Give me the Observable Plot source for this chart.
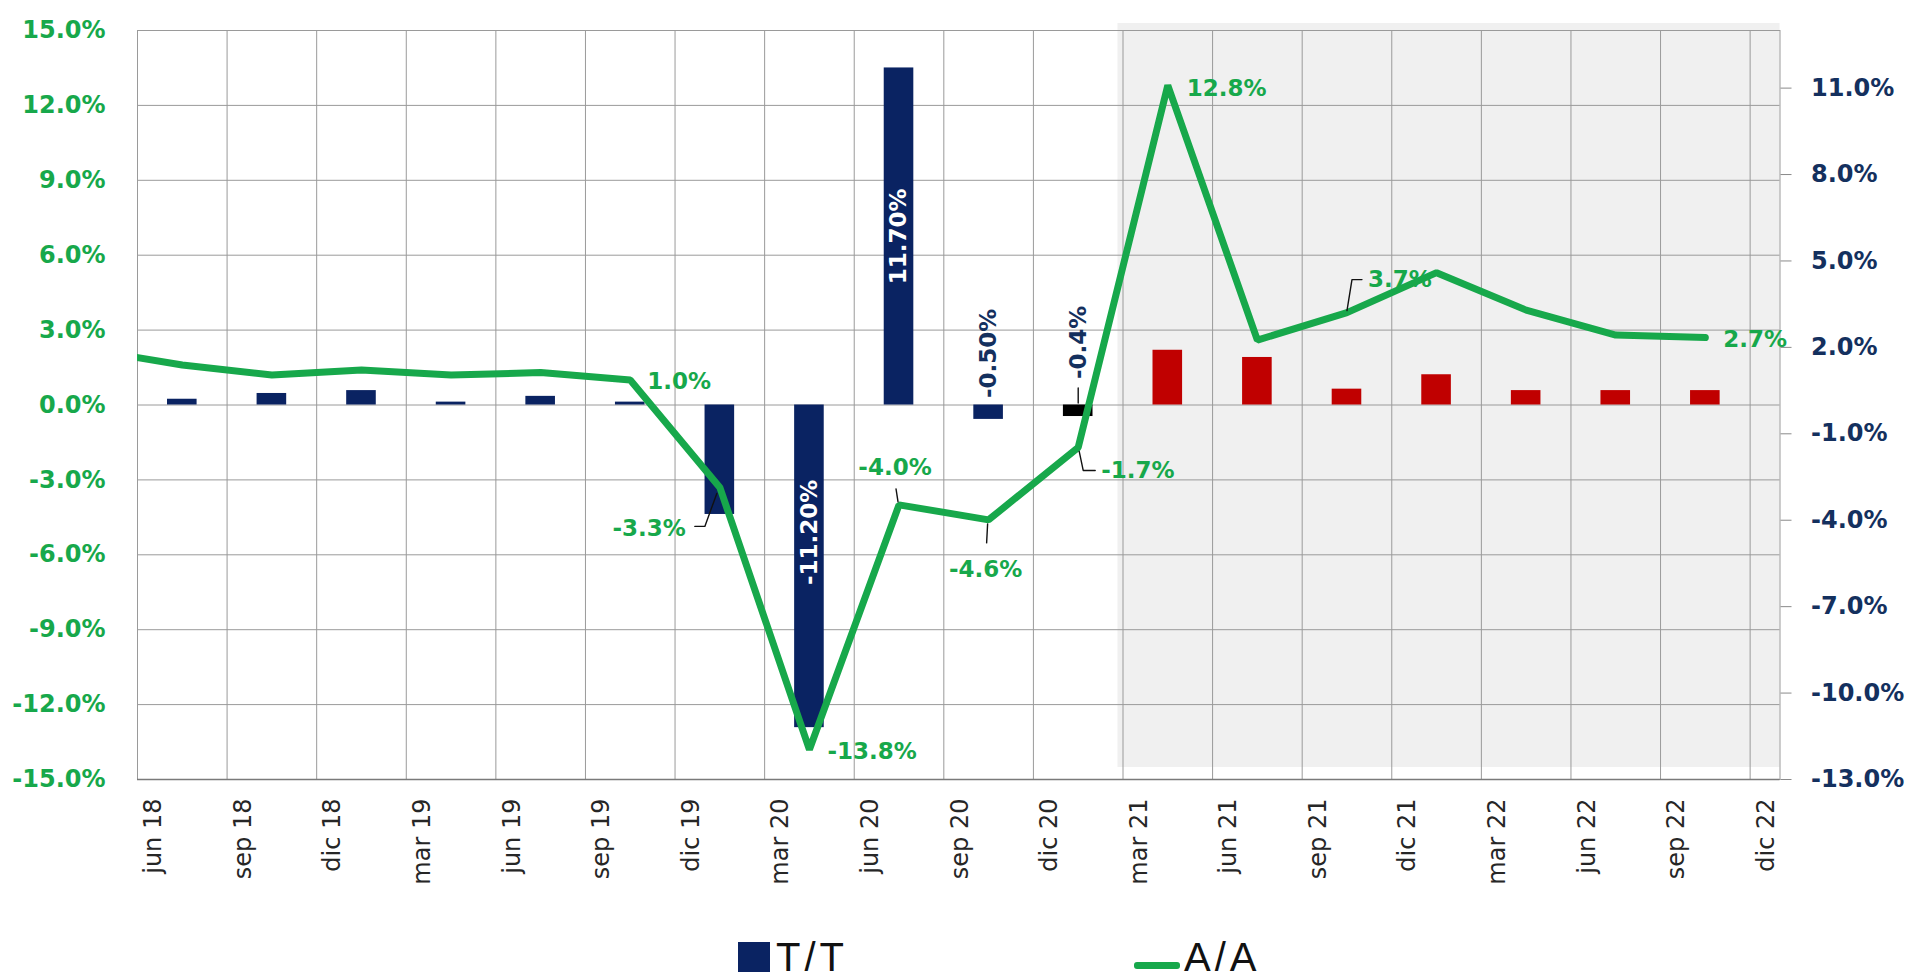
<!DOCTYPE html>
<html>
<head>
<meta charset="utf-8">
<script src="https://cdn.jsdelivr.net/npm/d3@7"></script>
<script src="https://cdn.jsdelivr.net/npm/@observablehq/plot@0.6"></script>
<style>
  html, body { margin: 0; padding: 0; background: #fff; }
  #chart svg { display: block; }
  .legend { position: relative; width: 1912px; height: 73px; font-family: "Liberation Sans", Arial, sans-serif; }
  .legend .swatch-bar { position: absolute; left: 738px; top: 37px; width: 32px; height: 30px; background: #0a2362; }
  .legend .swatch-line { position: absolute; left: 1134px; top: 57px; width: 46px; height: 7px; border-radius: 3px; background: #17a84b; }
  .legend .txt { position: absolute; top: 32px; font-size: 40px; line-height: 40px; color: #111; letter-spacing: 4px; }
</style>
</head>
<body>
<div id="chart"></div>
<div class="legend">
  <span class="swatch-bar"></span><span class="txt" style="left:776px">T/T</span>
  <span class="swatch-line"></span><span class="txt" style="left:1184px">A/A</span>
</div>
<script>
// Quarter boundaries shown on the horizontal axis
const axisTickLabels = ["jun 18","sep 18","dic 18","mar 19","jun 19","sep 19","dic 19","mar 20","jun 20","sep 20","dic 20","mar 21","jun 21","sep 21","dic 21","mar 22","jun 22","sep 22","dic 22"];

// Quarters plotted between the boundaries
const quarters = ["III-18","IV-18","I-19","II-19","III-19","IV-19","I-20","II-20","III-20","IV-20","I-21","II-21","III-21","IV-21","I-22","II-22","III-22","IV-22"];

// T/T: quarter-on-quarter change (right axis)
const ttValues = [0.2, 0.4, 0.5, 0.1, 0.3, 0.1, -3.8, -11.2, 11.7, -0.5, -0.4, 1.9, 1.65, 0.55, 1.05, 0.5, 0.5, 0.5];

// A/A: year-on-year change (left axis); series begins one quarter earlier
const aaQuarters = ["II-18", ...quarters];
const aaValues = [2.2, 1.6, 1.2, 1.4, 1.2, 1.3, 1.0, -3.3, -13.8, -4.0, -4.6, -1.7, 12.8, 2.6, 3.7, 5.3, 3.8, 2.8, 2.7];

// Axis ticks
const leftTicks = [-15, -12, -9, -6, -3, 0, 3, 6, 9, 12, 15];
const rightTicks = [-13, -10, -7, -4, -1, 2, 5, 8, 11];

const LEFT_DOMAIN = [-15, 15];
const RIGHT_DOMAIN = [-13, 13];
const latestEstimate = "I-21";
const firstForecast = "II-21";

const GREEN = "#17a84b";
const NAVY = "#0a2362";
const NAVY_TEXT = "#14305e";
const RED = "#c00000";
const GRID = "#9a9a9a";
const NUM_FONT = "DejaVu Sans";

// right-axis values expressed on the left (shared) y scale
const toLeft = d3.scaleLinear().domain(RIGHT_DOMAIN).range(LEFT_DOMAIN);

const slot = q => quarters.indexOf(q);
const center = q => aaQuarters.indexOf(q) - 0.5;
const xMax = axisTickLabels.length - 1 + 1 / 3;

const bars = quarters.map((q, i) => ({q, v: ttValues[i]}));
const aa = aaQuarters.map((q, i) => ({q, v: aaValues[i]}));

const barFill = d => d.q === latestEstimate ? "#000" : slot(d.q) > slot(latestEstimate) ? RED : NAVY;

// label placement (screen offsets in px)
const lineLabelLayout = {
  "IV-19": {dx: 17, dy: 2, textAnchor: "start"},
  "I-20": {dx: -34, dy: 41, textAnchor: "end", leader: [[-3, 6], [-15, 39], [-25, 39]]},
  "II-20": {dx: 18, dy: 2, textAnchor: "start"},
  "III-20": {dx: -4, dy: -37, textAnchor: "middle", leader: [[-1, -3], [-3, -16]]},
  "IV-20": {dx: -3, dy: 50, textAnchor: "middle", leader: [[-1, 4], [-2, 23]]},
  "I-21": {dx: 23, dy: 23, textAnchor: "start", leader: [[1, 4], [5, 23], [17, 23]]},
  "II-21": {dx: 19, dy: 3, textAnchor: "start"},
  "IV-21": {dx: 21, dy: -33, textAnchor: "start", leader: [[0, -2], [5, -33], [15, -33]]},
  "IV-22": {dx: 18, dy: 2, textAnchor: "start"}
};

const barLabelLayout = {
  "II-20": {at: "middle", dy: -34, fill: "#fff", digits: 2},
  "III-20": {at: "middle", dy: 0, fill: "#fff", digits: 2},
  "IV-20": {at: "base", dy: -7, fill: NAVY_TEXT, digits: 2},
  "I-21": {at: "base", dy: -26, fill: NAVY_TEXT, digits: 1, leader: [[0, -2], [0, -17]]}
};

const polyline = pts => ({
  draw(ctx) {
    ctx.moveTo(pts[0][0], pts[0][1]);
    for (const [px, py] of pts.slice(1)) ctx.lineTo(px, py);
  }
});

const leaderMark = (datum, x, y, pts) => Plot.vector([datum], {
  x, y, length: 1, rotate: 0, anchor: "start", shape: polyline(pts),
  stroke: "#111", strokeWidth: 1.4, fill: "none"
});

const lineLabelMarks = [];
for (const [q, lay] of Object.entries(lineLabelLayout)) {
  const d = aa.find(e => e.q === q);
  if (lay.leader) lineLabelMarks.push(leaderMark(d, e => center(e.q), e => e.v, lay.leader));
  lineLabelMarks.push(Plot.text([d], {
    x: e => center(e.q), y: e => e.v, text: e => e.v.toFixed(1) + "%",
    dx: lay.dx, dy: lay.dy, textAnchor: lay.textAnchor, lineAnchor: "middle",
    fill: GREEN, fontSize: 23, fontWeight: "bold", fontFamily: NUM_FONT
  }));
}

const barLabelMarks = [];
for (const [q, lay] of Object.entries(barLabelLayout)) {
  const d = bars.find(e => e.q === q);
  const yPos = lay.at === "middle" ? (e => toLeft(e.v) / 2) : (() => 0);
  if (lay.leader) barLabelMarks.push(leaderMark(d, e => slot(e.q) + 0.5, () => 0, lay.leader));
  barLabelMarks.push(Plot.text([d], {
    x: e => slot(e.q) + 0.5, y: yPos, text: e => e.v.toFixed(lay.digits) + "%",
    rotate: -90, textAnchor: lay.at === "middle" ? "middle" : "start", lineAnchor: "middle",
    dy: lay.dy, fill: lay.fill, fontSize: 23, fontWeight: "bold", fontFamily: NUM_FONT
  }));
}

const chart = Plot.plot({
  width: 1912,
  height: 905,
  marginLeft: 137,
  marginRight: 132.5,
  marginTop: 30,
  marginBottom: 126,
  style: {fontFamily: NUM_FONT, background: "#fff", overflow: "visible"},
  x: {type: "linear", domain: [0, xMax], axis: null},
  y: {domain: LEFT_DOMAIN, axis: null},
  marks: [
    // shaded forecast period
    Plot.rect([0], {
      x1: () => slot(firstForecast), x2: () => xMax, y1: () => LEFT_DOMAIN[0], y2: () => LEFT_DOMAIN[1],
      fill: "#f0f0f0", insetTop: -7, insetBottom: 12, insetLeft: -5
    }),
    Plot.gridY(leftTicks, {stroke: GRID, strokeOpacity: 1, strokeWidth: 1}),
    Plot.gridX(d3.range(axisTickLabels.length), {stroke: GRID, strokeOpacity: 1, strokeWidth: 1}),
    Plot.frame({stroke: GRID}),
    Plot.ruleY([LEFT_DOMAIN[0]], {stroke: "#7a7a7a", strokeWidth: 1.3}),

    // T/T bars
    Plot.rect(bars, {
      x1: d => slot(d.q), x2: d => slot(d.q) + 1, y1: () => 0, y2: d => toLeft(d.v),
      insetLeft: 30, insetRight: 30, fill: barFill
    }),

    // A/A line
    Plot.line(aa, {
      x: d => center(d.q), y: d => d.v, stroke: GREEN, strokeWidth: 7,
      strokeLinejoin: "miter", strokeLinecap: "round", clip: true
    }),

    ...barLabelMarks,
    ...lineLabelMarks,

    // left axis (A/A)
    Plot.axisY(leftTicks, {
      anchor: "left", tickSize: 0, tickPadding: 32, label: null,
      tickFormat: d => d.toFixed(1) + "%",
      fill: GREEN, fontSize: 24, fontWeight: "bold", fontFamily: NUM_FONT
    }),
    // right axis (T/T)
    Plot.axisY(rightTicks.map(toLeft), {
      anchor: "right", tickSize: 11, tickPadding: 20, label: null,
      tickFormat: v => toLeft.invert(v).toFixed(1) + "%",
      stroke: "#8a8a8a", fill: NAVY_TEXT, fontSize: 24, fontWeight: "bold", fontFamily: NUM_FONT
    }),
    // quarter boundary labels
    Plot.text(d3.range(axisTickLabels.length), {
      x: d => d, y: () => LEFT_DOMAIN[0], text: d => axisTickLabels[d],
      rotate: -90, textAnchor: "end", lineAnchor: "middle", dx: 16, dy: 19,
      fill: "#262626", fontSize: 24, fontFamily: "DejaVu Sans"
    })
  ]
});

document.getElementById("chart").append(chart);
</script>
</body>
</html>
